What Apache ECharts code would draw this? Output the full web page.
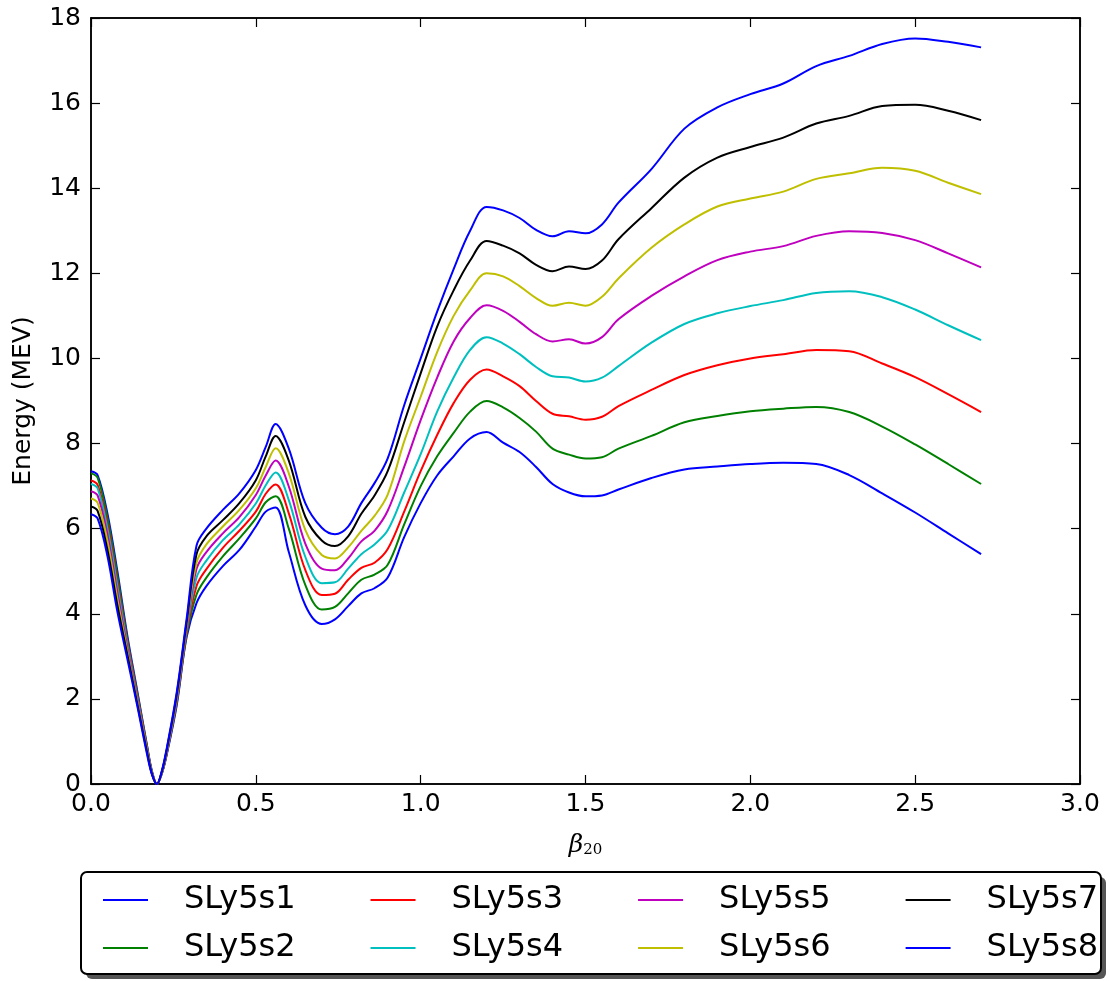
<!DOCTYPE html>
<html>
<head>
<meta charset="utf-8">
<script src="https://cdn.jsdelivr.net/npm/echarts@6/dist/echarts.min.js"></script>
<style>
html,body{margin:0;padding:0;background:#fff;}
#chart{width:1110px;height:981px;}
</style>
</head>
<body>
<div id="chart"></div>
<script>
// ---- data ----
const beta = [0, 0.02, 0.05, 0.08, 0.11, 0.14, 0.17, 0.185, 0.2, 0.215, 0.23, 0.26, 0.29, 0.32, 0.35, 0.4, 0.45, 0.5, 0.53, 0.56, 0.6, 0.65, 0.7, 0.74, 0.78, 0.82, 0.86, 0.9, 0.95, 1.0, 1.05, 1.1, 1.15, 1.2, 1.25, 1.3, 1.35, 1.4, 1.45, 1.5, 1.55, 1.6, 1.7, 1.8, 1.9, 2.0, 2.1, 2.2, 2.3, 2.4, 2.5, 2.6, 2.7];

const sly5s1 = [7.35, 7.26, 6.35, 5.0, 3.5, 2.2, 0.9, 0.3, 0.0, 0.25, 0.7, 1.85, 3.45, 4.25, 4.65, 5.12, 5.5, 6.05, 6.4, 6.5, 5.45, 4.2, 3.76, 3.87, 4.18, 4.48, 4.6, 4.85, 5.8, 6.6, 7.25, 7.7, 8.12, 8.27, 8.02, 7.8, 7.45, 7.05, 6.85, 6.76, 6.78, 6.92, 7.19, 7.39, 7.46, 7.52, 7.55, 7.52, 7.26, 6.83, 6.38, 5.89, 5.40];
const sly5s2 = [7.30, 7.2, 6.25, 4.9, 3.42, 2.15, 0.88, 0.28, 0.0, 0.25, 0.72, 1.9, 3.5, 4.45, 4.85, 5.35, 5.77, 6.24, 6.62, 6.76, 6.0, 4.68, 4.10, 4.16, 4.48, 4.8, 4.92, 5.15, 6.1, 7.0, 7.7, 8.25, 8.75, 9.0, 8.85, 8.6, 8.28, 7.88, 7.74, 7.65, 7.68, 7.88, 8.18, 8.50, 8.65, 8.76, 8.82, 8.86, 8.74, 8.40, 7.98, 7.52, 7.05];
const sly5s3 = [7.13, 7.03, 6.1, 4.75, 3.35, 2.1, 0.85, 0.27, 0.0, 0.26, 0.74, 1.94, 3.56, 4.65, 5.05, 5.55, 5.95, 6.40, 6.82, 7.04, 6.36, 5.03, 4.44, 4.47, 4.8, 5.08, 5.2, 5.52, 6.4, 7.35, 8.2, 8.95, 9.5, 9.74, 9.58, 9.35, 9.0, 8.7, 8.64, 8.56, 8.63, 8.88, 9.26, 9.61, 9.84, 10.0, 10.10, 10.20, 10.17, 9.88, 9.56, 9.16, 8.74];
const sly5s4 = [7.05, 6.95, 6.0, 4.65, 3.28, 2.05, 0.82, 0.26, 0.0, 0.27, 0.76, 1.98, 3.62, 4.85, 5.25, 5.73, 6.10, 6.59, 7.02, 7.32, 6.67, 5.34, 4.72, 4.74, 5.06, 5.4, 5.63, 5.96, 6.85, 7.75, 8.75, 9.55, 10.2, 10.5, 10.35, 10.1, 9.8, 9.58, 9.55, 9.46, 9.55, 9.82, 10.37, 10.81, 11.06, 11.23, 11.37, 11.54, 11.58, 11.44, 11.15, 10.78, 10.43];
const sly5s5 = [6.88, 6.78, 5.85, 4.5, 3.2, 2.0, 0.8, 0.25, 0.0, 0.28, 0.78, 2.02, 3.68, 5.05, 5.45, 5.89, 6.27, 6.79, 7.25, 7.60, 6.99, 5.65, 5.06, 5.02, 5.3, 5.7, 5.95, 6.42, 7.45, 8.55, 9.55, 10.4, 10.95, 11.25, 11.12, 10.86, 10.57, 10.4, 10.45, 10.35, 10.5, 10.92, 11.47, 11.93, 12.31, 12.51, 12.64, 12.88, 12.99, 12.95, 12.78, 12.47, 12.14];
const sly5s6 = [6.71, 6.61, 5.7, 4.35, 3.12, 1.95, 0.78, 0.24, 0.0, 0.29, 0.8, 2.06, 3.74, 5.2, 5.63, 6.05, 6.44, 6.95, 7.45, 7.89, 7.3, 5.97, 5.38, 5.30, 5.56, 5.95, 6.3, 6.8, 8.05, 9.1, 10.15, 11.0, 11.6, 12.0, 11.93, 11.7, 11.42, 11.24, 11.31, 11.24, 11.45, 11.88, 12.6, 13.15, 13.57, 13.76, 13.92, 14.22, 14.35, 14.48, 14.41, 14.13, 13.86];
const sly5s7 = [6.52, 6.42, 5.5, 4.2, 3.05, 1.9, 0.75, 0.23, 0.0, 0.3, 0.82, 2.1, 3.8, 5.4, 5.82, 6.20, 6.6, 7.14, 7.7, 8.18, 7.6, 6.28, 5.72, 5.59, 5.82, 6.35, 6.78, 7.35, 8.5, 9.65, 10.75, 11.6, 12.3, 12.76, 12.65, 12.47, 12.2, 12.05, 12.16, 12.1, 12.3, 12.8, 13.53, 14.25, 14.72, 14.97, 15.19, 15.52, 15.70, 15.93, 15.96, 15.82, 15.60];
const sly5s8 = [6.34, 6.24, 5.35, 4.05, 2.95, 1.85, 0.7, 0.22, 0.0, 0.31, 0.85, 2.15, 3.88, 5.6, 6.0, 6.44, 6.83, 7.38, 7.92, 8.46, 7.88, 6.6, 6.02, 5.87, 6.05, 6.6, 7.07, 7.65, 8.9, 10.0, 11.1, 12.1, 13.0, 13.56, 13.48, 13.3, 13.02, 12.87, 12.99, 12.94, 13.15, 13.66, 14.45, 15.4, 15.9, 16.21, 16.46, 16.87, 17.11, 17.39, 17.52, 17.44, 17.31];

const seriesNames = ['SLy5s1', 'SLy5s2', 'SLy5s3', 'SLy5s4', 'SLy5s5', 'SLy5s6', 'SLy5s7', 'SLy5s8'];
const seriesValues = [sly5s1, sly5s2, sly5s3, sly5s4, sly5s5, sly5s6, sly5s7, sly5s8];
const xTickValues = [0, 0.5, 1.0, 1.5, 2.0, 2.5, 3.0];
const yTickValues = [0, 2, 4, 6, 8, 10, 12, 14, 16, 18];
const xTitle = '{b|β}{s|20}';
const yTitle = 'Energy (MEV)';

// ---- styles ----
const colors = ['#0000ff', '#008000', '#ff0000', '#00bfbf', '#bf00bf', '#bfbf00', '#000000', '#0000ff'];
const FONT = 'DejaVu Sans';

const chart = echarts.init(document.getElementById('chart'), null, {renderer: 'canvas'});

const series = seriesNames.map((name, i) => ({
  name: name,
  type: 'line',
  xAxisIndex: 0,
  yAxisIndex: 0,
  data: beta.map((b, j) => [b, seriesValues[i][j]]),
  showSymbol: false,
  smooth: 0.35,
  lineStyle: {color: colors[i], width: 2},
  itemStyle: {color: colors[i]},
  emphasis: {disabled: true},
  z: 3
}));

const axisCommonX = {
  type: 'value', min: xTickValues[0], max: xTickValues[xTickValues.length - 1], interval: 0.5,
  splitLine: {show: false},
  axisLine: {show: true, onZero: false, lineStyle: {color: '#000', width: 1.5}},
  axisTick: {show: true, inside: true, length: 9, lineStyle: {color: '#000', width: 1.2}}
};
const axisCommonY = {
  type: 'value', min: yTickValues[0], max: yTickValues[yTickValues.length - 1], interval: 2,
  splitLine: {show: false},
  axisLine: {show: true, onZero: false, lineStyle: {color: '#000', width: 1.5}},
  axisTick: {show: true, inside: true, length: 9, lineStyle: {color: '#000', width: 1.2}}
};

const legendCommon = {
  orient: 'horizontal',
  left: 103,
  padding: 0,
  itemGap: 75,
  itemWidth: 45,
  itemHeight: 2,
  icon: 'rect',
  selectedMode: false,
  z: 10,
  textStyle: {fontFamily: FONT, fontSize: 32, color: '#000', padding: [0, 0, 0, 31]}
};

chart.setOption({
  animation: false,
  backgroundColor: '#fff',
  grid: {left: 91, right: 30, top: 18, bottom: 197, show: true, borderColor: '#000', borderWidth: 1.5, containLabel: false},
  xAxis: [
    Object.assign({}, axisCommonX, {
      position: 'bottom',
      name: xTitle, nameLocation: 'middle', nameGap: 44,
      nameTextStyle: {
        color: '#000',
        rich: {
          b: {fontFamily: 'DejaVu Serif', fontStyle: 'italic', fontSize: 25, color: '#000', lineHeight: 30, verticalAlign: 'bottom'},
          s: {fontFamily: 'DejaVu Serif', fontSize: 15, color: '#000', lineHeight: 22, verticalAlign: 'bottom'}
        }
      },
      axisLabel: {show: true, margin: 8, fontFamily: FONT, fontSize: 25, color: '#000', formatter: v => v.toFixed(1)}
    }),
    Object.assign({}, axisCommonX, {position: 'top', axisLabel: {show: false}})
  ],
  yAxis: [
    Object.assign({}, axisCommonY, {
      position: 'left',
      name: yTitle, nameLocation: 'middle', nameGap: 55,
      nameTextStyle: {fontFamily: FONT, fontSize: 25, color: '#000'},
      axisLabel: {show: true, margin: 10, fontFamily: FONT, fontSize: 25, color: '#000', formatter: v => String(v)}
    }),
    Object.assign({}, axisCommonY, {position: 'right', axisLabel: {show: false}})
  ],
  legend: [
    Object.assign({}, legendCommon, {top: 884, data: [seriesNames[0], seriesNames[2], seriesNames[4], seriesNames[6]]}),
    Object.assign({}, legendCommon, {top: 932, data: [seriesNames[1], seriesNames[3], seriesNames[5], seriesNames[7]]})
  ],
  graphic: [
    {type: 'rect', z: 0, shape: {x: 86, y: 877, width: 1020, height: 102, r: 6}, style: {fill: '#555', stroke: null}},
    {type: 'rect', z: 1, shape: {x: 81, y: 872, width: 1020, height: 102, r: 6}, style: {fill: '#fff', stroke: '#000', lineWidth: 2}}
  ],
  series: series
});
</script>
</body>
</html>
